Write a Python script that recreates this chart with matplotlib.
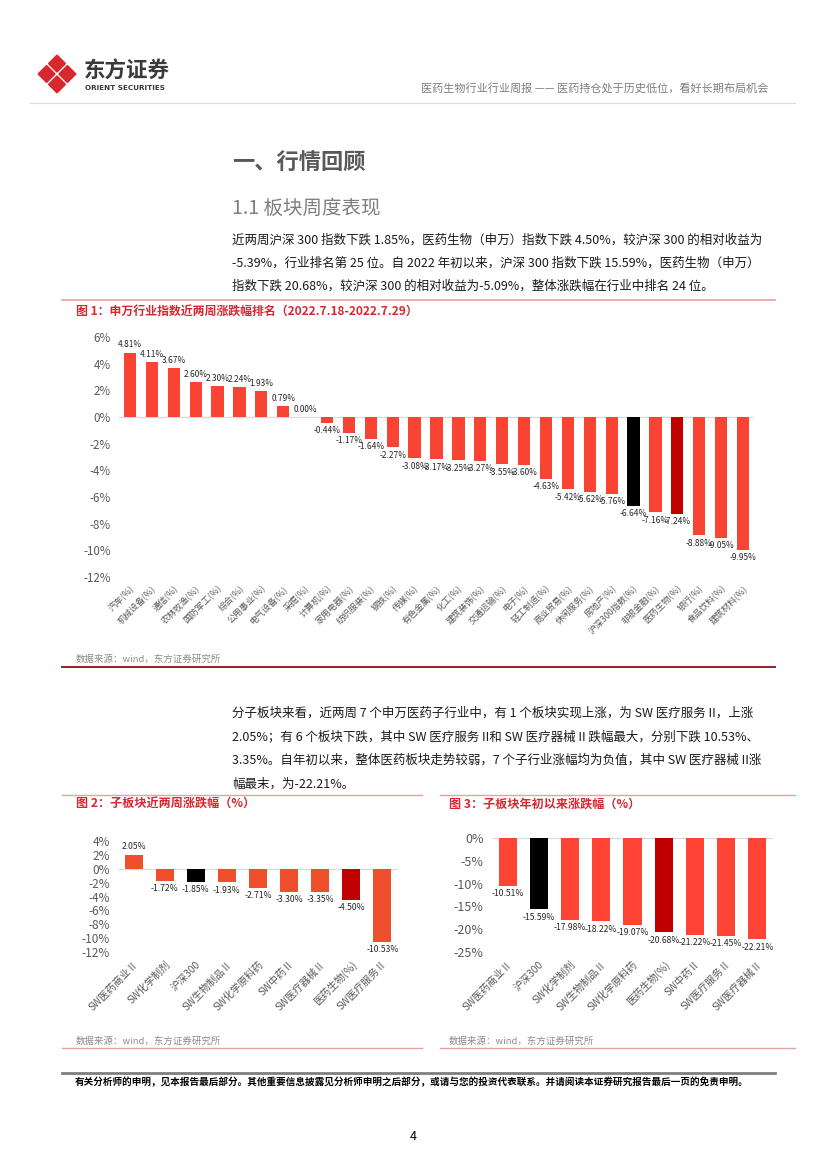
import numpy as np
import matplotlib
matplotlib.use('Agg')
import matplotlib.pyplot as plt
from matplotlib.lines import Line2D
from matplotlib.patches import Polygon

plt.rcParams['font.family'] = ['Noto Sans CJK SC', 'DejaVu Sans']
plt.rcParams['axes.unicode_minus'] = False

# chart 1: SW industries, last two weeks
ind_names = ['汽车(%)', '机械设备(%)', '通信(%)', '农林牧渔(%)', '国防军工(%)', '综合(%)',
             '公用事业(%)', '电气设备(%)', '采掘(%)', '计算机(%)', '家用电器(%)', '纺织服装(%)',
             '钢铁(%)', '传媒(%)', '有色金属(%)', '化工(%)', '建筑装饰(%)', '交通运输(%)',
             '电子(%)', '轻工制造(%)', '商业贸易(%)', '休闲服务(%)', '房地产(%)',
             '沪深300指数(%)', '非银金融(%)', '医药生物(%)', '银行(%)', '食品饮料(%)', '建筑材料(%)']
ind_vals = [4.81, 4.11, 3.67, 2.60, 2.30, 2.24, 1.93, 0.79, 0.00, -0.44, -1.17, -1.64,
            -2.27, -3.08, -3.17, -3.25, -3.27, -3.55, -3.60, -4.63, -5.42, -5.62, -5.76,
            -6.64, -7.16, -7.24, -8.88, -9.05, -9.95]

# chart 2: sub sectors, last two weeks
sub2_names = ['SW医药商业Ⅱ', 'SW化学制剂', '沪深300', 'SW生物制品Ⅱ', 'SW化学原料药',
              'SW中药Ⅱ', 'SW医疗器械Ⅱ', '医药生物(%)', 'SW医疗服务Ⅱ']
sub2_vals = [2.05, -1.72, -1.85, -1.93, -2.71, -3.30, -3.35, -4.50, -10.53]

# chart 3: sub sectors, year to date
sub3_names = ['SW医药商业Ⅱ', '沪深300', 'SW化学制剂', 'SW生物制品Ⅱ', 'SW化学原料药',
              '医药生物(%)', 'SW中药Ⅱ', 'SW医疗服务Ⅱ', 'SW医疗器械Ⅱ']
sub3_vals = [-10.51, -15.59, -17.98, -18.22, -19.07, -20.68, -21.22, -21.45, -22.21]

W, H = 827, 1169
fig = plt.figure(figsize=(W / 100, H / 100), dpi=100)
fig.patch.set_facecolor('white')


def txt(x, y, s, **kw):
    kw.setdefault('va', 'center')
    fig.text(x / W, 1 - y / H, s, **kw)


def hline(x0, x1, y, color, lw):
    fig.add_artist(Line2D([x0 / W, x1 / W], [1 - y / H, 1 - y / H], color=color, lw=lw))


def add_ax(l, t, r, b):
    return fig.add_axes([l / W, 1 - b / H, (r - l) / W, (b - t) / H])


def colors_for(names, base):
    out = []
    for n in names:
        if n.startswith('沪深300'):
            out.append('black')
        elif n.startswith('医药生物'):
            out.append('#C00000')
        else:
            out.append(base)
    return out


def bar_chart(ax, names, vals, base, ymin, ymax, step, bw, lab_fs, ytk_fs, xtk_fs):
    x = np.arange(len(names))
    ax.bar(x, vals, width=bw, color=colors_for(names, base), zorder=2)
    ax.axhline(0, color='#D9D9D9', lw=0.9, zorder=1)
    ax.set_xlim(-0.5, len(names) - 0.5)
    ax.set_ylim(ymin, ymax)
    ticks = np.arange(ymin, ymax + step / 2, step)
    ax.set_yticks(ticks)
    ax.set_yticklabels([f'{int(t)}%' for t in ticks], fontsize=ytk_fs, color='#595959')
    ax.set_xticks(x)
    ax.set_xticklabels(names, rotation=45, ha='right', rotation_mode='anchor',
                       fontsize=xtk_fs, color='#595959')
    ax.tick_params(length=0, axis='y', pad=6)
    ax.tick_params(length=0, axis='x', pad=5)
    for s in ax.spines.values():
        s.set_visible(False)
    ax.set_facecolor('none')
    for xi, v in zip(x, vals):
        up = v >= 0
        ax.annotate(f'{v:.2f}%', (xi, v), xytext=(0, 2.5 if up else -2.5),
                    textcoords='offset points', ha='center',
                    va='bottom' if up else 'top', fontsize=lab_fs, color='#262626')


# header, logo of four red pieces
lax = add_ax(37, 54, 77, 94)
lax.set_xlim(-1, 1)
lax.set_ylim(-1, 1)
lax.axis('off')
r = 0.40
for cx, cy in [(0, 0.52), (0, -0.52), (0.52, 0), (-0.52, 0)]:
    lax.add_patch(Polygon([(cx, cy + r), (cx + r, cy), (cx, cy - r), (cx - r, cy)],
                          closed=True, fc='#D7282F', ec='#D7282F', lw=1.5, joinstyle='round'))
txt(84, 71, '东方证券', fontsize=15.5, fontweight='bold', color='#3A3A3A')
txt(85, 88, 'ORIENT SECURITIES', fontsize=5.2, fontweight='bold', color='#3A3A3A',
    family=['DejaVu Sans'])
txt(768, 89, '医药生物行业行业周报 —— 医药持仓处于历史低位，看好长期布局机会',
    fontsize=8, color='#7F7F7F', ha='right')
hline(30, 795, 103, '#D9D9D9', 0.8)

# section titles and text
txt(232, 163, '一、行情回顾', fontsize=16, fontweight='bold', color='#595959')
txt(232, 208, '1.1 板块周度表现', fontsize=14, color='#7F7F7F')
para1 = ['近两周沪深 300 指数下跌 1.85%，医药生物（申万）指数下跌 4.50%，较沪深 300 的相对收益为',
         '-5.39%，行业排名第 25 位。自 2022 年初以来，沪深 300 指数下跌 15.59%，医药生物（申万）',
         '指数下跌 20.68%，较沪深 300 的相对收益为-5.09%，整体涨跌幅在行业中排名 24 位。']
for i, line in enumerate(para1):
    txt(232, 240 + i * 23, line, fontsize=9, color='#1A1A1A')

# figure 1
hline(62, 775, 300, '#E8A0A0', 1.2)
txt(76, 311, '图 1：申万行业指数近两周涨跌幅排名（2022.7.18-2022.7.29）', fontsize=8.6,
    fontweight='bold', color='#D7282F')
ax1 = add_ax(119, 337, 754, 577)
bar_chart(ax1, ind_names, ind_vals, '#FA4433', -12, 6, 2, 0.56, 6.0, 8.3, 6.4)
txt(76, 659, '数据来源：wind，东方证券研究所', fontsize=6.8, color='#8C8C8C')
hline(62, 775, 667, '#8B2525', 1.4)

para2 = ['分子板块来看，近两周 7 个申万医药子行业中，有 1 个板块实现上涨，为 SW 医疗服务 II，上涨',
         '2.05%；有 6 个板块下跌，其中 SW 医疗服务 II和 SW 医疗器械 II 跌幅最大，分别下跌 10.53%、',
         '3.35%。自年初以来，整体医药板块走势较弱，7 个子行业涨幅均为负值，其中 SW 医疗器械 II涨',
         '幅最末，为-22.21%。']
for i, line in enumerate(para2):
    txt(232, 713 + i * 23.7, line, fontsize=9, color='#1A1A1A')

# figure 2
hline(62, 422, 795, '#E8A0A0', 1.0)
txt(76, 804, '图 2：子板块近两周涨跌幅（%）', fontsize=8.7, fontweight='bold', color='#D7282F')
ax2 = add_ax(118, 841, 398, 952)
bar_chart(ax2, sub2_names, sub2_vals, '#EF4F2C', -12, 4, 2, 0.58, 6.2, 8.5, 7.3)
txt(76, 1041, '数据来源：wind，东方证券研究所', fontsize=6.8, color='#8C8C8C')
hline(62, 422, 1048, '#E8A0A0', 1.0)

# figure 3
hline(440, 795, 795, '#E8A0A0', 1.0)
txt(449, 804, '图 3：子板块年初以来涨跌幅（%）', fontsize=8.7, fontweight='bold', color='#D7282F')
ax3 = add_ax(492, 838, 773, 952)
bar_chart(ax3, sub3_names, sub3_vals, '#FF4436', -25, 0, 5, 0.58, 6.2, 9.0, 7.3)
txt(449, 1041, '数据来源：wind，东方证券研究所', fontsize=6.8, color='#8C8C8C')
hline(440, 795, 1048, '#E8A0A0', 1.0)

# footer
hline(62, 775, 1073, '#7F7F7F', 2.0)
txt(75, 1082, '有关分析师的申明，见本报告最后部分。其他重要信息披露见分析师申明之后部分，'
    '或请与您的投资代表联系。并请阅读本证券研究报告最后一页的免责申明。',
    fontsize=6.9, fontweight='bold', color='black')
txt(413, 1136, '4', fontsize=9, color='black', ha='center')

fig.savefig('out.png', dpi=100, facecolor='white')
